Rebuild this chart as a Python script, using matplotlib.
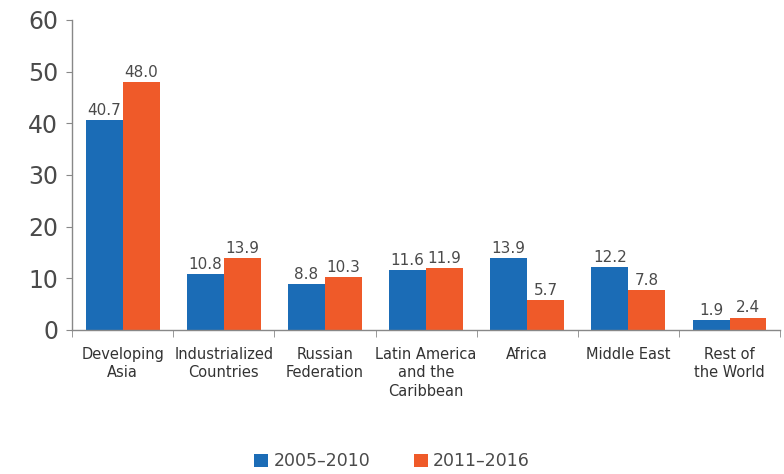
import matplotlib
matplotlib.use("Agg")
import matplotlib.pyplot as plt
import numpy as np

# data
categories = ["Developing\nAsia", "Industrialized\nCountries", "Russian\nFederation",
              "Latin America\nand the\nCaribbean", "Africa", "Middle East", "Rest of\nthe World"]
period_1 = [40.7, 10.8, 8.8, 11.6, 13.9, 12.2, 1.9]
period_2 = [48.0, 13.9, 10.3, 11.9, 5.7, 7.8, 2.4]
series_names = ["2005\u20132010", "2011\u20132016"]
y_ticks = [0, 10, 20, 30, 40, 50, 60]

BLUE = "#1b6cb6"
ORANGE = "#ef5a29"
GREY = "#4a4a4a"

fig = plt.figure(figsize=(7.84, 4.74), dpi=100)
ax = fig.add_axes([0.092, 0.304, 0.903, 0.654])

x = np.arange(len(categories))
w = 0.365
b1 = ax.bar(x - w / 2, period_1, w, color=BLUE, label=series_names[0])
b2 = ax.bar(x + w / 2, period_2, w, color=ORANGE, label=series_names[1])

for bars, vals in ((b1, period_1), (b2, period_2)):
    for r, v in zip(bars, vals):
        ax.text(r.get_x() + r.get_width() / 2, v + 0.4, f"{v:.1f}",
                ha="center", va="bottom", fontsize=11, color=GREY)

ax.set_xlim(-0.5, len(categories) - 0.5)
ax.set_ylim(0, 60)
ax.set_yticks(y_ticks)
ax.set_yticklabels([str(t) for t in y_ticks], fontsize=17, color=GREY)

# category labels at centers, tick marks at boundaries
ax.set_xticks(x)
ax.set_xticklabels(categories, fontsize=10.5, color="#333333", linespacing=1.3)
ax.tick_params(axis="x", length=0, pad=12)
ax.set_xticks(np.arange(len(categories) + 1) - 0.5, minor=True)
ax.tick_params(axis="x", which="minor", length=5, color="#888888")
ax.tick_params(axis="y", length=4, color="#888888", pad=6)

for s in ("top", "right"):
    ax.spines[s].set_visible(False)
for s in ("left", "bottom"):
    ax.spines[s].set_color("#888888")
    ax.spines[s].set_linewidth(1)

fig.legend(handles=[b1, b2], labels=series_names, loc="lower center",
           bbox_to_anchor=(0.5, -0.025), ncol=2, frameon=False, fontsize=12.5,
           handlelength=0.8, handleheight=0.8, handletextpad=0.3,
           columnspacing=2.5, labelcolor=GREY)

fig.savefig("out.png", dpi=100)
